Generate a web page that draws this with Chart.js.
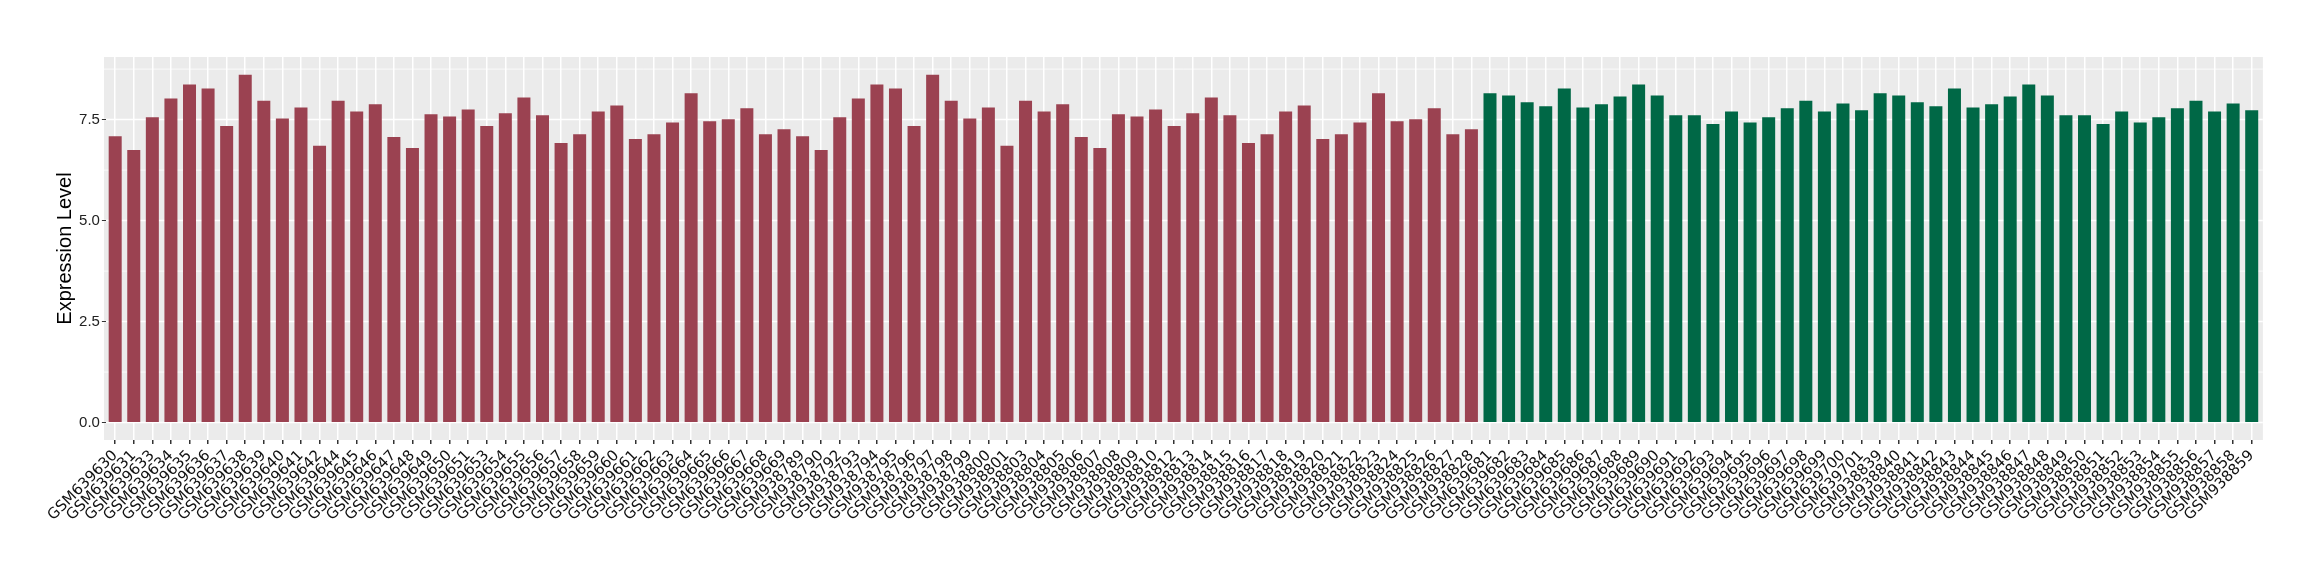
<!DOCTYPE html>
<html>
<head>
<meta charset="utf-8">
<script src="https://cdn.jsdelivr.net/npm/chart.js@4.4.1/dist/chart.umd.min.js"></script>
<style>
  body { margin: 0; background: #fff; }
  #wrap { width: 2320px; height: 580px; }
</style>
</head>
<body>
<div id="wrap"><canvas id="expr-chart"></canvas></div>
<script>
const redSamples = [
  'GSM639630', 'GSM639631', 'GSM639633', 'GSM639634', 'GSM639635', 'GSM639636', 'GSM639637', 'GSM639638',
  'GSM639639', 'GSM639640', 'GSM639641', 'GSM639642', 'GSM639644', 'GSM639645', 'GSM639646', 'GSM639647',
  'GSM639648', 'GSM639649', 'GSM639650', 'GSM639651', 'GSM639653', 'GSM639654', 'GSM639655', 'GSM639656',
  'GSM639657', 'GSM639658', 'GSM639659', 'GSM639660', 'GSM639661', 'GSM639662', 'GSM639663', 'GSM639664',
  'GSM639665', 'GSM639666', 'GSM639667', 'GSM639668', 'GSM639669',
  'GSM938789', 'GSM938790', 'GSM938792', 'GSM938793', 'GSM938794', 'GSM938795', 'GSM938796', 'GSM938797',
  'GSM938798', 'GSM938799', 'GSM938800', 'GSM938801', 'GSM938803', 'GSM938804', 'GSM938805', 'GSM938806',
  'GSM938807', 'GSM938808', 'GSM938809', 'GSM938810', 'GSM938812', 'GSM938813', 'GSM938814', 'GSM938815',
  'GSM938816', 'GSM938817', 'GSM938818', 'GSM938819', 'GSM938820', 'GSM938821', 'GSM938822', 'GSM938823',
  'GSM938824', 'GSM938825', 'GSM938826', 'GSM938827', 'GSM938828'
]
const redValues = [
  7.09, 6.75, 7.56, 8.02, 8.37, 8.27, 7.34, 8.61, 7.97, 7.53, 7.80, 6.85, 7.97, 7.70, 7.88, 7.07,
  6.80, 7.63, 7.58, 7.75, 7.34, 7.66, 8.05, 7.61, 6.92, 7.14, 7.70, 7.85, 7.02, 7.14, 7.43, 8.15,
  7.46, 7.51, 7.78, 7.14, 7.26,
  7.09, 6.75, 7.56, 8.02, 8.37, 8.27, 7.34, 8.61, 7.97, 7.53, 7.80, 6.85, 7.97, 7.70, 7.88, 7.07,
  6.80, 7.63, 7.58, 7.75, 7.34, 7.66, 8.05, 7.61, 6.92, 7.14, 7.70, 7.85, 7.02, 7.14, 7.43, 8.15,
  7.46, 7.51, 7.78, 7.14, 7.26
]

const greenSamples = [
  'GSM639681', 'GSM639682', 'GSM639683', 'GSM639684', 'GSM639685', 'GSM639686', 'GSM639687', 'GSM639688',
  'GSM639689', 'GSM639690', 'GSM639691', 'GSM639692', 'GSM639693', 'GSM639694', 'GSM639695', 'GSM639696',
  'GSM639697', 'GSM639698', 'GSM639699', 'GSM639700', 'GSM639701',
  'GSM938839', 'GSM938840', 'GSM938841', 'GSM938842', 'GSM938843', 'GSM938844', 'GSM938845', 'GSM938846',
  'GSM938847', 'GSM938848', 'GSM938849', 'GSM938850', 'GSM938851', 'GSM938852', 'GSM938853', 'GSM938854',
  'GSM938855', 'GSM938856', 'GSM938857', 'GSM938858', 'GSM938859'
]
const greenValues = [
  8.15, 8.10, 7.93, 7.83, 8.27, 7.80, 7.88, 8.07, 8.37, 8.10, 7.61, 7.61, 7.39, 7.70, 7.43, 7.56,
  7.78, 7.97, 7.70, 7.90, 7.73,
  8.15, 8.10, 7.93, 7.83, 8.27, 7.80, 7.88, 8.07, 8.37, 8.10, 7.61, 7.61, 7.39, 7.70, 7.43, 7.56,
  7.78, 7.97, 7.70, 7.90, 7.73
]

const yTicks = [0, 2.5, 5, 7.5]
const yMin = -0.431
const yMax = 9.05

const RED = '#9b4251'
const GREEN = '#006846'

const labels = redSamples.concat(greenSamples)
const values = redValues.concat(greenValues)
const colors = redSamples.map(() => RED).concat(greenSamples.map(() => GREEN))

// grey ggplot-style panel, a bit wider than the chart area (0.6 category expansion)
const panelPlugin = {
  id: 'panel',
  beforeDraw(chart) {
    const { ctx, chartArea } = chart
    const yScale = chart.scales.y
    const step = (chartArea.right - chartArea.left) / labels.length
    const left = chartArea.left - 0.1 * step
    const right = chartArea.right + 0.1 * step
    ctx.save()
    ctx.fillStyle = '#ebebeb'
    ctx.fillRect(left, chartArea.top, right - left, chartArea.bottom - chartArea.top)
    ctx.strokeStyle = '#ffffff'
    // minor lines halfway between majors
    ctx.lineWidth = 0.8
    for (let i = 0; i < yTicks.length; i++) {
      const y = yScale.getPixelForValue(yTicks[i] + 1.25)
      ctx.beginPath(); ctx.moveTo(left, y); ctx.lineTo(right, y); ctx.stroke()
    }
    ctx.lineWidth = 1.5
    yTicks.forEach(v => {
      const y = yScale.getPixelForValue(v)
      ctx.beginPath(); ctx.moveTo(left, y); ctx.lineTo(right, y); ctx.stroke()
    })
    ctx.restore()
  }
}

new Chart(document.querySelector('#expr-chart').getContext('2d'), {
  type: 'bar',
  data: {
    labels: labels,
    datasets: [{
      label: 'Expression',
      data: values,
      backgroundColor: colors,
      borderWidth: 0,
      barPercentage: 0.7,
      categoryPercentage: 1.0
    }]
  },
  options: {
    responsive: true,
    maintainAspectRatio: false,
    animation: false,
    layout: { padding: { left: 0, top: 57, right: 59, bottom: 0 } },
    plugins: {
      legend: { display: false },
      tooltip: { enabled: false }
    },
    scales: {
      x: {
        offset: true,
        afterFit(scale) { scale.height = 140 },
        grid: {
          offset: false,
          color: '#ffffff',
          lineWidth: 1.5,
          drawTicks: true,
          tickLength: 4,
          tickColor: '#333333'
        },
        border: { display: false },
        ticks: {
          autoSkip: false,
          minRotation: 45,
          maxRotation: 45,
          padding: 3,
          color: '#111111',
          font: { family: 'DejaVu Sans', size: 15 }
        }
      },
      y: {
        min: yMin,
        max: yMax,
        afterFit(scale) { scale.width = 105.9 },
        afterBuildTicks(scale) { scale.ticks = yTicks.map(v => ({ value: v })) },
        grid: {
          drawOnChartArea: false,
          drawTicks: true,
          tickLength: 4,
          tickColor: '#333333'
        },
        border: { display: false },
        ticks: {
          padding: 2,
          color: '#222222',
          font: { family: 'Liberation Sans', size: 15 },
          callback: v => v.toFixed(1)
        },
        title: {
          display: true,
          text: 'Expression Level',
          color: '#000000',
          font: { family: 'Liberation Sans', size: 20 },
          padding: { top: 53, bottom: 0 }
        }
      }
    }
  },
  plugins: [panelPlugin]
})
</script>
</body>
</html>
